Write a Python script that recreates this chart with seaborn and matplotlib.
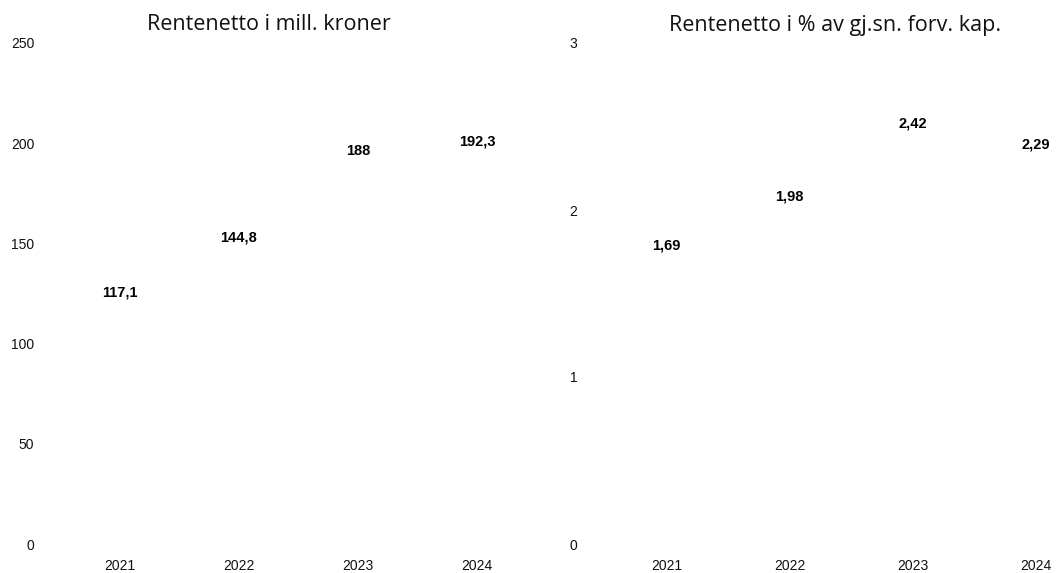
import matplotlib
matplotlib.use("Agg")
import matplotlib.pyplot as plt
import seaborn as sns
import pandas as pd

# Data
years = ["2021", "2022", "2023", "2024"]
rentenetto_mill = [117.1, 144.8, 188.0, 192.3]
rentenetto_pct = [1.69, 1.98, 2.42, 2.29]
labels_mill = ["117,1", "144,8", "188", "192,3"]
labels_pct = ["1,69", "1,98", "2,42", "2,29"]

sns.set_theme(style="white")
plt.rcParams["font.family"] = ["Liberation Sans", "DejaVu Sans"]

W, H = 1058, 573
fig = plt.figure(figsize=(W / 100, H / 100), dpi=100)

bottom = (H - 544) / H
height = (544 - 43) / H

# left panel
ax1 = fig.add_axes([60 / W, bottom, (537 - 60) / W, height])
df1 = pd.DataFrame({"year": years, "value": rentenetto_mill})
sns.barplot(data=df1, x="year", y="value", color="white", ax=ax1, width=0.6)
ax1.set_ylim(0, 250)
ax1.set_yticks([0, 50, 100, 150, 200, 250])
ax1.set_xlim(-0.5, 3.5)
ax1.bar_label(ax1.containers[0], labels=labels_mill, padding=7,
              fontsize=10.5, fontweight="bold", color="black")
ax1.set_title("Rentenetto i mill. kroner", fontsize=15.5, family="Open Sans",
              x=(269 - 60) / (537 - 60), pad=9, color="#111111")

# right panel
ax2 = fig.add_axes([605 / W, bottom, (1058 - 605) / W, height])
df2 = pd.DataFrame({"year": years, "value": rentenetto_pct})
sns.barplot(data=df2, x="year", y="value", color="white", ax=ax2, width=0.6)
ax2.set_ylim(0, 3)
ax2.set_yticks([0, 1, 2, 3])
ax2.set_xlim(-0.5, -0.5 + (1058 - 605) / 123)
ax2.bar_label(ax2.containers[0], labels=labels_pct, padding=7,
              fontsize=10.5, fontweight="bold", color="black")
ax2.set_title("Rentenetto i % av gj.sn. forv. kap.", fontsize=15.5, family="Open Sans",
              x=(835.5 - 605) / (1058 - 605), pad=9, color="#111111")

for ax, ypad in [(ax1, 18.5), (ax2, 20)]:
    ax.set_xlabel("")
    ax.set_ylabel("")
    sns.despine(ax=ax, left=True, bottom=True)
    ax.tick_params(axis="y", length=0, pad=ypad, labelsize=10, labelcolor="#111111")
    ax.tick_params(axis="x", length=0, pad=11, labelsize=10, labelcolor="#111111")
    ax.grid(False)

fig.savefig("out.png", dpi=100, facecolor="white")
